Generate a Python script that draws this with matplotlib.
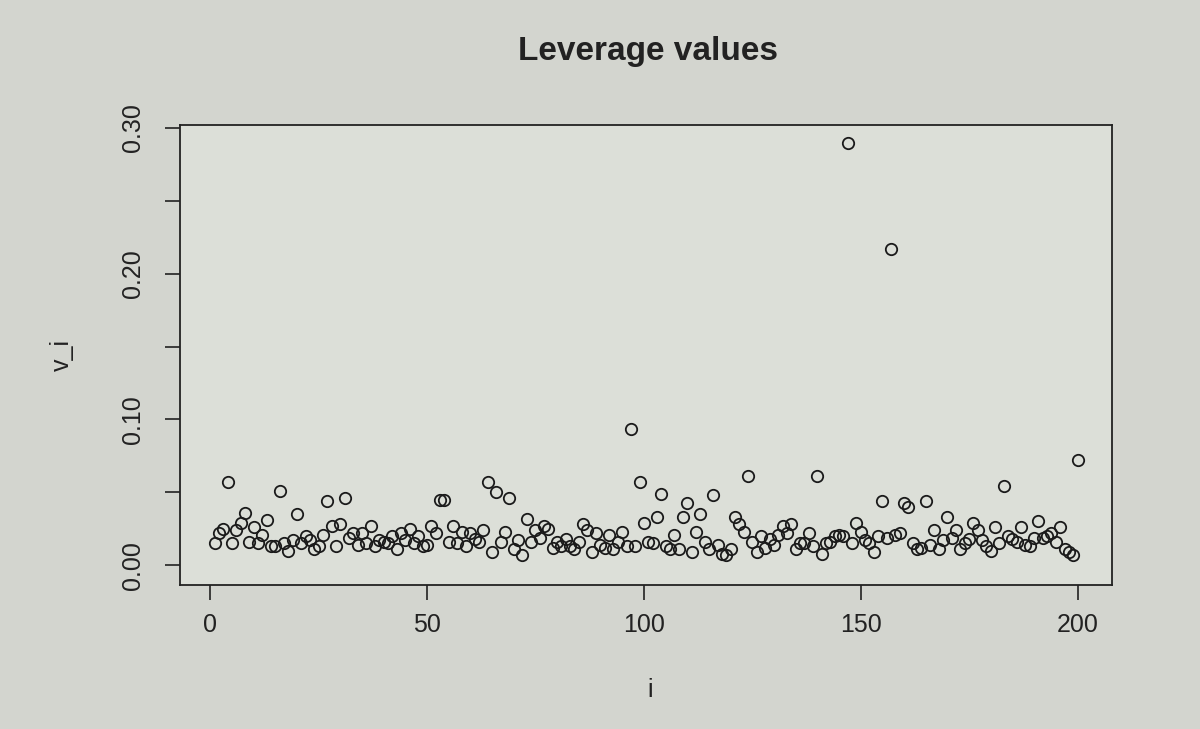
import matplotlib
matplotlib.use("Agg")
import matplotlib.pyplot as plt
import numpy as np

plt.rcParams.update({
    'font.family': ['Liberation Sans', 'DejaVu Sans'],
    'font.size': 18,
    'axes.linewidth': 1.3,
    'xtick.direction': 'out',
    'ytick.direction': 'out',
    'xtick.major.size': 11,
    'ytick.major.size': 11,
    'xtick.major.width': 1.2,
    'ytick.major.width': 1.2,
})

# leverage values (index 1..200)
leverage = [
    0.015, 0.022, 0.025, 0.057, 0.015, 0.024, 0.029, 0.036, 0.016, 0.026,
    0.015, 0.021, 0.031, 0.013, 0.013, 0.051, 0.015, 0.010, 0.017, 0.035,
    0.015, 0.020, 0.017, 0.011, 0.013, 0.021, 0.044, 0.027, 0.013, 0.028,
    0.046, 0.019, 0.022, 0.014, 0.022, 0.015, 0.027, 0.013, 0.017, 0.016,
    0.015, 0.020, 0.011, 0.022, 0.017, 0.025, 0.015, 0.020, 0.013, 0.014,
    0.027, 0.022, 0.045, 0.045, 0.016, 0.027, 0.015, 0.023, 0.013, 0.022,
    0.018, 0.016, 0.024, 0.057, 0.009, 0.050, 0.016, 0.023, 0.046, 0.011,
    0.017, 0.007, 0.032, 0.016, 0.024, 0.019, 0.027, 0.025, 0.012, 0.016,
    0.013, 0.018, 0.013, 0.011, 0.016, 0.028, 0.024, 0.009, 0.022, 0.014,
    0.012, 0.021, 0.011, 0.016, 0.023, 0.013, 0.0935, 0.013, 0.057, 0.029,
    0.016, 0.015, 0.033, 0.049, 0.013, 0.011, 0.021, 0.011, 0.033, 0.043,
    0.009, 0.023, 0.035, 0.016, 0.011, 0.048, 0.014, 0.008, 0.007, 0.011,
    0.033, 0.028, 0.023, 0.061, 0.016, 0.009, 0.020, 0.012, 0.018, 0.014,
    0.021, 0.027, 0.022, 0.028, 0.011, 0.015, 0.015, 0.022, 0.013, 0.061,
    0.008, 0.015, 0.016, 0.020, 0.021, 0.020, 0.290, 0.015, 0.029, 0.023,
    0.017, 0.015, 0.009, 0.020, 0.044, 0.019, 0.217, 0.021, 0.022, 0.043,
    0.040, 0.015, 0.011, 0.012, 0.044, 0.014, 0.024, 0.011, 0.017, 0.033,
    0.019, 0.024, 0.011, 0.015, 0.018, 0.029, 0.024, 0.017, 0.013, 0.010,
    0.026, 0.015, 0.054, 0.020, 0.018, 0.016, 0.026, 0.014, 0.013, 0.019,
    0.030, 0.019, 0.020, 0.022, 0.016, 0.026, 0.011, 0.009, 0.007, 0.072,
]
idx = np.arange(1, len(leverage) + 1)

xticks = [0, 50, 100, 150, 200]
yticks = [0.00, 0.05, 0.10, 0.15, 0.20, 0.25, 0.30]
ylabels = ['0.00', '', '0.10', '', '0.20', '', '0.30']

fig = plt.figure(figsize=(12, 7.29), dpi=100, facecolor='#d3d5cf')
ax = fig.add_axes([0.15, 0.1975, 0.7767, 0.631])
ax.set_facecolor('#dcdfd8')

ax.plot(idx, leverage, 'o', markerfacecolor='none', markeredgecolor='#1a1a1a',
        markersize=8.2, markeredgewidth=1.3)

ax.set_xlim(-6.96, 207.96)
ax.set_ylim(-0.0136, 0.302)
ax.set_xticks(xticks)
ax.set_xticklabels([str(t) for t in xticks])
ax.set_yticks(yticks)
ax.set_yticklabels(ylabels, rotation=90, va='center')
ax.tick_params(axis='x', pad=9, colors='#222222')
ax.tick_params(axis='y', pad=14, colors='#222222')
for sp in ax.spines.values():
    sp.set_color('#222222')

fig.text(0.54, 0.93, "Leverage values", ha='center', va='center',
         fontsize=24, fontweight='bold', color='#222222')
fig.text(0.542, 0.053, "i", ha='center', va='center', fontsize=18, color='#222222')
fig.text(0.052, 0.513, "v_i", ha='center', va='center', rotation=90,
         fontsize=18, color='#222222')

fig.savefig("out.png", dpi=100, facecolor=fig.get_facecolor())
